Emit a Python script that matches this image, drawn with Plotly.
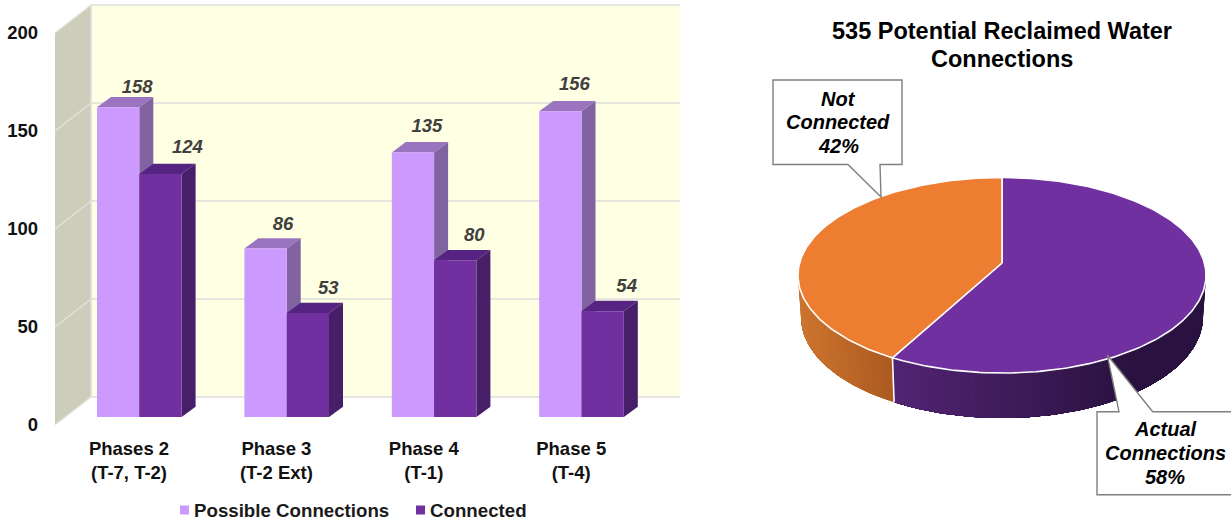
import math
import plotly.graph_objects as go

# ---- chart data ----
phases = ["Phases 2<br>(T-7, T-2)", "Phase 3<br>(T-2 Ext)", "Phase 4<br>(T-1)", "Phase 5<br>(T-4)"]
possible_connections = [158, 86, 135, 156]
connected = [124, 53, 80, 54]
y_ticks = [0, 50, 100, 150, 200]
pie_title = ["535 Potential Reclaimed Water", "Connections"]
actual_share = 58
not_connected_share = 42

# ---- page and column-chart geometry (pixels) ----
W, H = 1231, 520
FONT = "Liberation Sans"
PX_PER_UNIT = 1.96       # vertical pixels per connection
PX_PER_GROUP = 147.4     # horizontal pixels per phase
AXIS_BOTTOM = 425
PLOT_LEFT, PLOT_RIGHT = 42, 700
FIRST_TICK = 129

def dx(px):
    return px / PX_PER_GROUP

def dv(px):
    return px / PX_PER_UNIT

x_range = [dx(PLOT_LEFT - FIRST_TICK), dx(PLOT_RIGHT - FIRST_TICK)]
y_range = [0, dv(AXIS_BOTTOM)]

BAR_W = dx(42.3)
BAR_INSET_X = dx(10.3)   # bars stand a little behind the front edge of the floor
BAR_INSET_V = dv(8)
DEPTH_X, DEPTH_V = dx(14), dv(10.3)
WALL_X0 = dx(55 - FIRST_TICK)
WALL_DX, WALL_DV = dx(36), dv(28)
WALL_RIGHT = dx(680 - FIRST_TICK)

GRID = "#dedede"
shapes = []

def poly_path(points):
    return "M" + " L".join(f"{x},{y}" for x, y in points) + " Z"

# side wall and back wall sit underneath everything else
shapes.append(dict(type="path", layer="below", xref="x", yref="y", line_width=0, fillcolor="#cdcdbc",
                   path=poly_path([(WALL_X0, 0), (WALL_X0 + WALL_DX, WALL_DV),
                                   (WALL_X0 + WALL_DX, 200 + WALL_DV), (WALL_X0, 200)])))
shapes.append(dict(type="rect", layer="below", xref="x", yref="y", line_width=0, fillcolor="#ffffe3",
                   x0=WALL_X0 + WALL_DX, x1=WALL_RIGHT, y0=WALL_DV, y1=200 + WALL_DV))
for t in y_ticks:
    shapes.append(dict(type="line", layer="below", xref="x", yref="y", line=dict(color=GRID, width=1.6),
                       x0=WALL_X0 + WALL_DX, x1=WALL_RIGHT, y0=t + WALL_DV, y1=t + WALL_DV))
    shapes.append(dict(type="line", layer="below", xref="x", yref="y", line=dict(color="#e4e4dc", width=1.2),
                       x0=WALL_X0, x1=WALL_X0 + WALL_DX, y0=t, y1=t + WALL_DV))
shapes.append(dict(type="line", layer="below", xref="x", yref="y", line=dict(color=GRID, width=1.6),
                   x0=WALL_X0 + WALL_DX, x1=WALL_X0 + WALL_DX, y0=WALL_DV, y1=200 + WALL_DV))

fig = go.Figure()

def face(xs, ys, color):
    fig.add_trace(go.Scatter(x=xs, y=ys, mode="lines", fill="toself", fillcolor=color,
                             line=dict(width=0), hoverinfo="skip", showlegend=False,
                             xaxis="x", yaxis="y"))

# top and side faces of each column; the front faces are bars on an overlaid axis pair
series = [
    (possible_connections, -BAR_W, "#cc99ff", "#9b74c0", "#8163a1", "Possible Connections"),
    (connected, 0.0, "#7030a0", "#552382", "#471f68", "Connected"),
]
for values, off, front, top, side, name in series:
    for i, v in enumerate(values):
        left = i + BAR_INSET_X + off
        right = left + BAR_W
        base = BAR_INSET_V
        high = base + v
        face([left, right, right + DEPTH_X, left + DEPTH_X, left],
             [high, high, high + DEPTH_V, high + DEPTH_V, high], top)
        face([right, right + DEPTH_X, right + DEPTH_X, right, right],
             [base, base + DEPTH_V, high + DEPTH_V, high, base], side)

for values, off, front, top, side, name in series:
    fig.add_trace(go.Bar(
        x=[i + BAR_INSET_X for i in range(len(values))], y=values, base=BAR_INSET_V,
        width=BAR_W, offset=off, name=name, marker=dict(color=front, line=dict(width=0)),
        showlegend=False, xaxis="x2", yaxis="y2",
    ))

# value labels above the columns; the nudges keep them clear of the top faces
label_nudge_x = {
    "Possible Connections": [19, 17.5, 14, 14],
    "Connected": [27, 20.5, 19, 24],
}
label_lift = {
    "Possible Connections": [19, 23.5, 25.5, 25.5],
    "Connected": [25.5, 23.5, 23.5, 23.5],
}
for values, off, front, top, side, name in series:
    xs = [i + BAR_INSET_X + off + BAR_W / 2 + dx(n) for i, n in enumerate(label_nudge_x[name])]
    ys = [BAR_INSET_V + v + dv(n) for v, n in zip(values, label_lift[name])]
    fig.add_trace(go.Scatter(
        x=xs, y=ys, mode="text", text=[str(v) for v in values], textposition="middle center",
        textfont=dict(family=FONT, size=18.5, color="#404040", weight=700, style="italic"),
        hoverinfo="skip", showlegend=False, xaxis="x2", yaxis="y2",
    ))

# ---- tilted pie, projected with a slight perspective ----
PIE_CX, PIE_CY = 1002, 263  # page position of the pie's centre, 100 px per axis unit
PERSP = -0.1253
RADIUS_X, RADIUS_Z = 2.024, 0.9625
DEPTH_SCALE_X, DEPTH_SCALE_Y = 0.985, 1.03
DEPTH_SHIFT, DEPTH_PIVOT = 0.54, 0.12

def rim(theta_deg, lower=False):
    """Project a clockwise angle from the top of the pie onto the page."""
    th = math.radians(theta_deg)
    px, pz = math.sin(th), -math.cos(th)
    w = 1 + PERSP * pz
    x, y = RADIUS_X * px / w, RADIUS_Z * pz / w
    if lower:
        x, y = x * DEPTH_SCALE_X, DEPTH_SHIFT + (y - DEPTH_PIVOT) * DEPTH_SCALE_Y
    return x, -y

def mix(c0, c1, t):
    t = max(0.0, min(1.0, t))
    return "rgb(" + ",".join(str(round(a + (b - a) * t)) for a, b in zip(c0, c1)) + ")"

def pie_poly(points, fill, line):
    fig.add_trace(go.Scatter(
        x=[p[0] for p in points], y=[p[1] for p in points], mode="lines", fill="toself",
        fillcolor=fill, line=line, hoverinfo="skip", showlegend=False, xaxis="x3", yaxis="y3",
    ))

split = 360 * actual_share / (actual_share + not_connected_share)
VIS_START, VIS_END = 82.8, 277.2  # the part of the rim that faces the viewer

def band(a, b):
    """Outline of the side wall between two rim angles."""
    n = max(2, int(abs(b - a)))
    angles = [a + (b - a) * i / n for i in range(n + 1)]
    return [rim(t) for t in angles] + [rim(t, True) for t in reversed(angles)]

def side_wall(start, end, x_c0, x_c1, c0, c1, steps):
    # each band runs to the far end and is painted over by the next, so no seams show through
    for s in range(steps):
        a = start + (end - start) * s / steps
        x_mid = rim(a + (end - start) / (2 * steps))[0]
        color = mix(c0, c1, (x_mid - x_c0) / (x_c1 - x_c0))
        pie_poly(band(a, end), color, dict(width=0))

# both walls get lighter towards the left of the pie
side_wall(split, VIS_END, -1.1, -2.0, (172, 90, 33), (204, 116, 46), 40)
side_wall(VIS_START, split, 1.28, -1.1, (42, 18, 64), (82, 36, 116), 80)

def arc(start, end):
    n = max(2, int(abs(end - start)))
    return [rim(start + (end - start) * i / n) for i in range(n + 1)]

white_edge = dict(color="white", width=1.6)
pie_poly([(0, 0)] + arc(0, split) + [(0, 0)], "#7030a0", white_edge)
pie_poly([(0, 0)] + arc(split, 360) + [(0, 0)], "#ed7d31", white_edge)
# seam between the two side walls
fig.add_trace(go.Scatter(x=[rim(split)[0], rim(split, True)[0]], y=[rim(split)[1], rim(split, True)[1]],
                         mode="lines", line=white_edge, hoverinfo="skip", showlegend=False,
                         xaxis="x3", yaxis="y3"))

# ---- callouts, legend and text, placed in page pixels ----
def pgx(px):
    return px / W

def pgy(py):
    return 1 - py / H

def page_path(points):
    return "M" + " L".join(f"{pgx(x)},{pgy(y)}" for x, y in points) + " Z"

callout_line = dict(color="#7f7f7f", width=1.4)
shapes.append(dict(type="path", xref="paper", yref="paper", fillcolor="white", line=callout_line,
                   path=page_path([(773, 80), (902, 80), (902, 164.5), (880, 164.5), (881, 197),
                                   (848, 164.5), (773, 164.5)])))
shapes.append(dict(type="path", xref="paper", yref="paper", fillcolor="white", line=callout_line,
                   path=page_path([(1097, 411.7), (1119, 411.7), (1107.3, 355), (1152.7, 411.7),
                                   (1240, 411.7), (1240, 494.7), (1097, 494.7)])))

annotations = []

def page_text(px, py, text, size, color="black", anchor="center", italic=False):
    annotations.append(dict(
        x=pgx(px), y=pgy(py), xref="paper", yref="paper", text=text, showarrow=False,
        xanchor=anchor, yanchor="middle", align="center",
        font=dict(family=FONT, size=size, color=color, weight=700, style="italic" if italic else "normal"),
    ))

for line, py in zip(pie_title, [31, 59]):
    page_text(1002, py, line, 23.5)
for line, py in zip(["Not", "Connected", f"{not_connected_share}%"], [98.7, 122.3, 146]):
    page_text(838, py, line, 20, italic=True)
for line, py in zip(["Actual", "Connections", f"{actual_share}%"], [429, 452.7, 476.7]):
    page_text(1165, py, line, 20, italic=True)

legend_y = 510
for sq_x, text_x, (values, off, front, top, side, name) in zip([180, 416], [192, 428], series):
    shapes.append(dict(type="rect", xref="paper", yref="paper", line_width=0, fillcolor=front,
                       x0=pgx(sq_x), x1=pgx(sq_x + 9), y0=pgy(legend_y - 4.5), y1=pgy(legend_y + 4.5)))
    page_text(text_x, legend_y, name, 18.7, anchor="left", color="#1a1a1a")

hidden = dict(visible=False, showgrid=False, zeroline=False)
bar_dom_x = [PLOT_LEFT / W, PLOT_RIGHT / W]
bar_dom_y = [(H - AXIS_BOTTOM) / H, 1]

fig.update_layout(
    width=W, height=H, margin=dict(l=0, r=0, t=0, b=0, pad=0, autoexpand=False),
    paper_bgcolor="white", plot_bgcolor="rgba(0,0,0,0)", barmode="overlay", showlegend=False,
    font=dict(family=FONT),
    xaxis=dict(domain=bar_dom_x, range=x_range, tickmode="array", tickvals=list(range(len(phases))),
               ticktext=phases, showgrid=False, zeroline=False, showline=False, ticks="",
               ticklabelstandoff=10,
               tickfont=dict(family=FONT, size=18.5, color="#111111", weight=700), tickangle=0, fixedrange=True),
    yaxis=dict(domain=bar_dom_y, range=y_range, tickmode="array", tickvals=y_ticks,
               showgrid=False, zeroline=False, showline=False, ticks="", ticklabelstandoff=3,
               tickfont=dict(family=FONT, size=18.5, color="#111111", weight=700), fixedrange=True),
    xaxis2=dict(hidden, overlaying="x", matches="x", anchor="y2"),
    yaxis2=dict(hidden, overlaying="y", matches="y", anchor="x2"),
    xaxis3=dict(hidden, domain=[720 / W, 1], range=[(720 - PIE_CX) / 100, (W - PIE_CX) / 100], anchor="y3"),
    yaxis3=dict(hidden, domain=[0, 1], range=[(PIE_CY - H) / 100, PIE_CY / 100], anchor="x3"),
    shapes=shapes, annotations=annotations,
)

fig.write_html("out.html", config={"displayModeBar": False})
